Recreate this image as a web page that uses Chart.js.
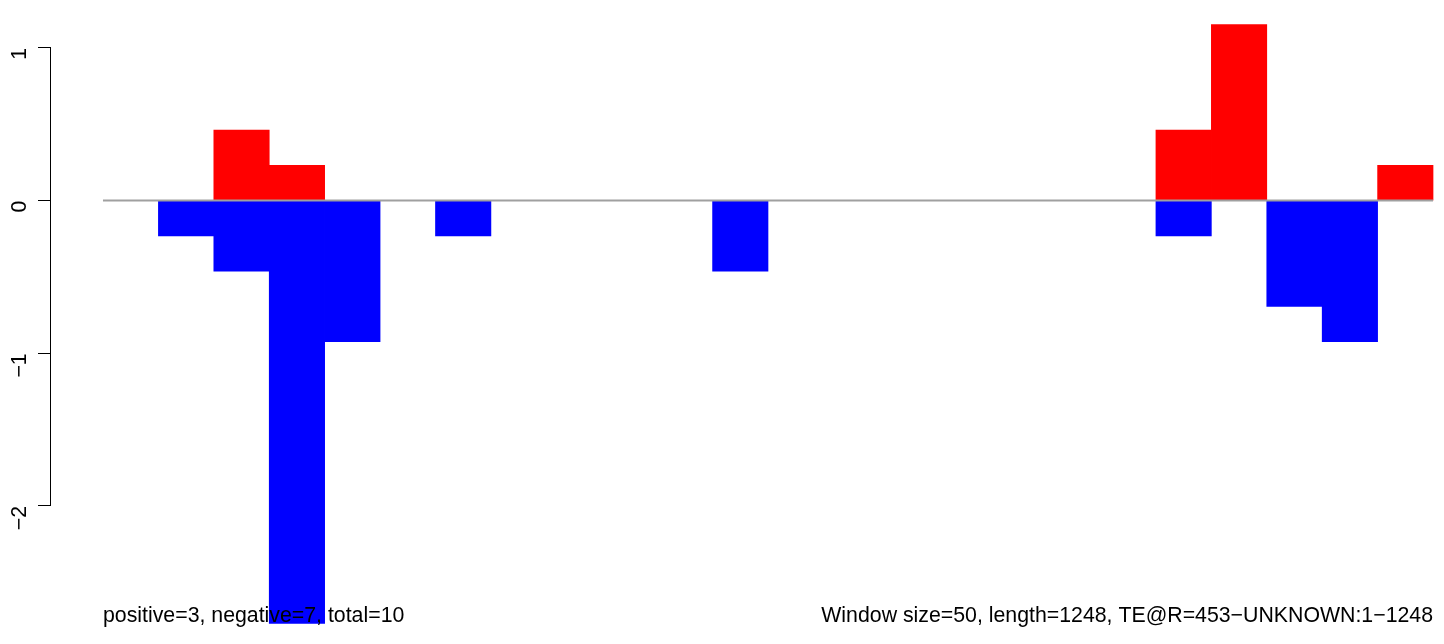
<!DOCTYPE html>
<html>
<head>
<meta charset="utf-8">
<script src="https://cdn.jsdelivr.net/npm/chart.js@4/dist/chart.umd.min.js"></script>
<style>
  body { margin: 0; background: #fff; }
  #wrap { width: 1444px; height: 644px; position: relative; }
</style>
</head>
<body>
<div id="wrap"><canvas id="teChart"></canvas></div>
<script>
// window index (50 bp windows), 24 windows along the sequence
var windows = [];
for (var i = 0; i < 24; i++) windows.push(i);

// scores per window (null = nothing drawn)
var positive = [null, null, 0.4615, 0.2308, null, null, null, null, null, null, null, null,
                null, null, null, null, null, null, null, 0.4615, 1.1538, null, null, 0.2308];
var negative = [null, -0.2308, -0.4615, -2.7692, -0.9231, null, -0.2308, null, null, null, null, -0.4615,
                null, null, null, null, null, null, null, -0.2308, null, -0.6923, -0.9231, null];

var yTicks = [1, 0, -1, -2];
var leftNote = "positive=3, negative=7, total=10";
var rightNote = "Window size=50, length=1248, TE@R=453\u2212UNKNOWN:1\u22121248";

function toPoints(arr) {
    return windows.map(function (w, i) {
        return { x: w + 0.5, y: arr[i] };
    });
}

var fontFamily = "'Liberation Sans', Arial, Helvetica, sans-serif";
var fontSize = 21.3;

// R-style y axis line (only over the tick range) and the two notes at the bottom
var axisLine = {
    id: 'axisLine',
    afterDraw: function (chart) {
        var ctx = chart.ctx;
        var ys = chart.scales.y;
        var x = chart.chartArea.left;
        ctx.save();
        ctx.strokeStyle = '#000';
        ctx.lineWidth = 1;
        ctx.beginPath();
        ctx.moveTo(x - 0.5, ys.getPixelForValue(yTicks[0]));
        ctx.lineTo(x - 0.5, ys.getPixelForValue(yTicks[yTicks.length - 1]));
        ctx.stroke();

        var xs = chart.scales.x;
        ctx.fillStyle = '#000';
        ctx.font = fontSize + 'px ' + fontFamily;
        ctx.textBaseline = 'alphabetic';
        var by = chart.chartArea.bottom - 22;
        ctx.textAlign = 'left';
        ctx.fillText(leftNote, xs.getPixelForValue(0), by);
        ctx.textAlign = 'right';
        ctx.fillText(rightNote, xs.getPixelForValue(windows.length), by);
        ctx.restore();
    }
};

var ctx = document.getElementById('teChart').getContext('2d');
new Chart(ctx, {
    type: 'bar',
    data: {
        datasets: [{
            type: 'line',
            label: 'zero',
            data: [{ x: 0, y: 0 }, { x: windows.length, y: 0 }],
            borderColor: '#a0a0a0',
            borderWidth: 2,
            pointRadius: 0,
            order: 0
        }, {
            label: 'positive',
            data: toPoints(positive),
            backgroundColor: '#ff0000',
            borderWidth: 0,
            grouped: false,
            barPercentage: 1,
            categoryPercentage: 1,
            order: 1
        }, {
            label: 'negative',
            data: toPoints(negative),
            backgroundColor: '#0000ff',
            borderWidth: 0,
            grouped: false,
            barPercentage: 1,
            categoryPercentage: 1,
            order: 1
        }]
    },
    options: {
        responsive: true,
        maintainAspectRatio: false,
        animation: false,
        layout: { padding: 0 },
        plugins: {
            legend: { display: false },
            tooltip: { enabled: false }
        },
        scales: {
            x: {
                type: 'linear',
                display: false,
                offset: false,
                min: -0.938,
                max: 24.198
            },
            y: {
                min: -2.904,
                max: 1.314,
                afterFit: function (scale) {
                    scale.width = 51;
                    scale.paddingTop = 0;
                    scale.paddingBottom = 0;
                },
                border: { display: false },
                grid: {
                    drawOnChartArea: false,
                    drawTicks: true,
                    tickLength: 13,
                    tickColor: '#000',
                    lineWidth: 1
                },
                ticks: {
                    stepSize: 1,
                    includeBounds: false,
                    minRotation: 90,
                    maxRotation: 90,
                    padding: 18,
                    color: '#000',
                    font: { size: fontSize, family: fontFamily },
                    callback: function (v) {
                        return String(v).replace('-', '\u2212');
                    }
                }
            }
        }
    },
    plugins: [axisLine]
});
</script>
</body>
</html>
